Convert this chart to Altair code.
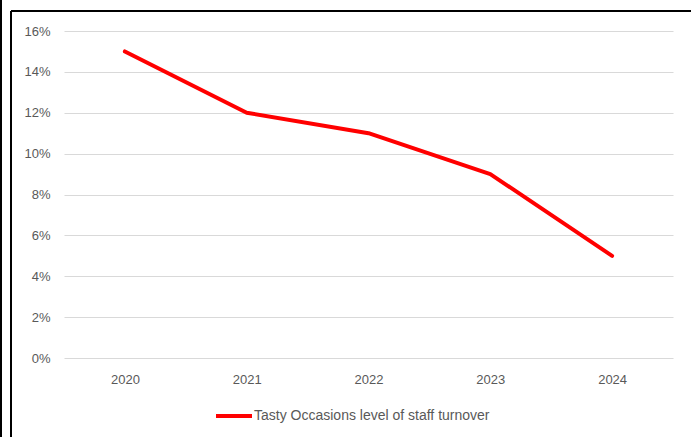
import altair as alt
import pandas as pd

# Staff turnover by year
years = ["2020", "2021", "2022", "2023", "2024"]
turnover = [0.15, 0.12, 0.11, 0.09, 0.05]
series_name = "Tasty Occasions level of staff turnover"
y_ticks = [0.0, 0.02, 0.04, 0.06, 0.08, 0.10, 0.12, 0.14, 0.16]

df = pd.DataFrame({"year": years, "turnover": turnover, "series": [series_name] * len(years)})

FONT = "Liberation Sans"
GREY = "#595959"
W, H = 609, 327

line = alt.Chart(df).mark_line(strokeWidth=4, strokeCap="round", strokeJoin="round").encode(
    x=alt.X("year:O", title=None,
            axis=alt.Axis(labelAngle=0, grid=False, domain=False, ticks=False,
                          labelPadding=15, labelFontSize=13, labelColor=GREY, labelFont=FONT)),
    y=alt.Y("turnover:Q", title=None,
            scale=alt.Scale(domain=[0, 0.16], nice=False),
            axis=alt.Axis(values=y_ticks, format=".0%", domain=False, ticks=False,
                          labelPadding=14, labelFontSize=13, labelColor=GREY, labelFont=FONT,
                          gridColor="#d9d9d9", gridWidth=1)),
    color=alt.Color("series:N", scale=alt.Scale(range=["#ff0000"]),
                    legend=alt.Legend(title=None, orient="none", legendX=150, legendY=38 + H,
                                      symbolType="stroke", symbolStrokeWidth=4, symbolSize=1296,
                                      labelFontSize=14, labelColor=GREY, labelFont=FONT,
                                      labelOffset=0, labelLimit=0, padding=0)),
)

# Outer frame around the chart
frame_left = alt.Chart(df).mark_rule(color="black", strokeWidth=2).encode(
    x=alt.value(-53), y=alt.value(-20), y2=alt.value(H + 90))
frame_top = alt.Chart(df).mark_rule(color="black", strokeWidth=2).encode(
    x=alt.value(-53), x2=alt.value(W + 18), y=alt.value(-20))
edge_left = alt.Chart(df).mark_rule(color="black", strokeWidth=2).encode(
    x=alt.value(-63), y=alt.value(-40), y2=alt.value(H + 90))

chart = alt.layer(line, frame_left, frame_top, edge_left).properties(
    width=W, height=H,
    background="white",
    autosize=alt.AutoSizeParams(type="none"),
    padding={"left": 64, "top": 31, "right": 23, "bottom": 79},
).configure_view(stroke=None)

chart.save("out.html", embed_options={"renderer": "svg", "actions": False})
